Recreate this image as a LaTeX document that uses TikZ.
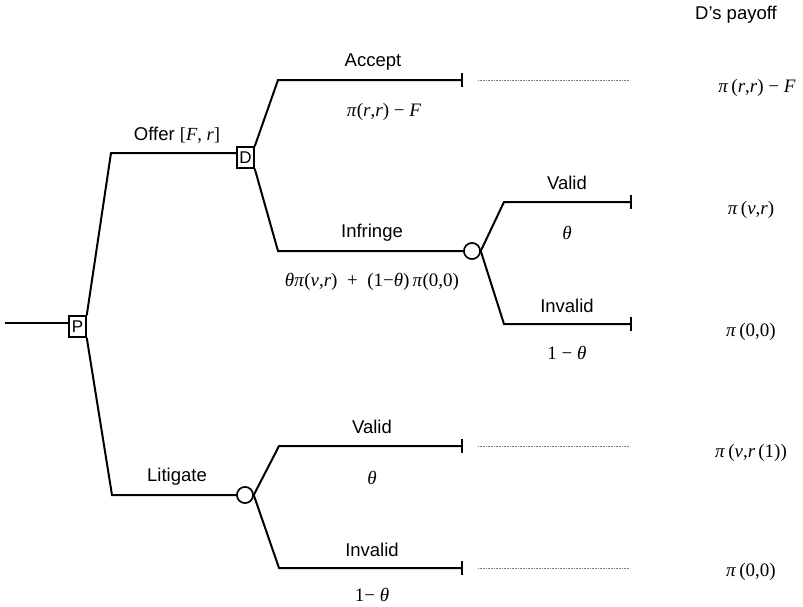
\documentclass[tikz,border=0pt]{standalone}
\usepackage{fontspec}
\setmainfont{Liberation Serif}
\setsansfont{Liberation Sans}
\newfontfamily\lblfont{Liberation Sans}
\newfontfamily\frmfont{Liberation Serif}
\usetikzlibrary{arrows.meta}
\newcommand\iv[1]{\textit{#1}}
\begin{document}
\begin{tikzpicture}[x=1pt,y=-1pt,
  lbl/.style={inner sep=0pt, font=\lblfont\fontsize{18.5}{20}\selectfont},
  frm/.style={inner sep=0pt, font=\frmfont\fontsize{19}{21}\selectfont},
  decbox/.style={draw, line width=1.5pt, minimum width=17pt, minimum height=21pt,
    inner sep=0pt, font=\lblfont\fontsize{17}{17}\selectfont},
  chance/.style={draw, circle, line width=1.5pt, minimum size=16pt, inner sep=0pt, fill=white},
  branch/.style={line width=2pt},
  ending/.style={line width=2pt, -{Bar[width=14pt]}},
  payoffline/.style={gray, line width=0.9pt, dash pattern=on 0.8pt off 0.8pt}]
\useasboundingbox (0,0) rectangle (803,606);

% decision and chance nodes
\node[decbox] (P) at (77.5,326.5) {P};
\node[decbox] (D) at (245.5,157.5) {D};
\node[chance] (I) at (472,251) {};
\node[chance] (L) at (245,495) {};

% corner points of the branches
\coordinate (root) at (5,323);
\coordinate (o1) at (111,153);
\coordinate (o2) at (112,495);
\coordinate (a0) at (278,80);   \coordinate (a1) at (463,80);
\coordinate (f0) at (278,251);
\coordinate (iv0) at (504,202); \coordinate (iv1) at (632,202);
\coordinate (ii0) at (504,324); \coordinate (ii1) at (632,324);
\coordinate (lv0) at (279,446); \coordinate (lv1) at (463,446);
\coordinate (li0) at (279,568); \coordinate (li1) at (463,568);
\coordinate (da0) at (478,80);  \coordinate (da1) at (630,80);
\coordinate (dv0) at (478,446); \coordinate (dv1) at (630,446);
\coordinate (di0) at (478,568); \coordinate (di1) at (630,568);

% tree
\draw[branch] (root) -- ([yshift=3.5pt]P.west);
\draw[branch] (P.north east) -- (o1) -- ([yshift=4.5pt]D.west);
\draw[branch] (P.south east) -- (o2) -- (L.west);
\draw[ending] (D.north east) -- (a0) -- (a1);
\draw[branch] (D.south east) -- (f0) -- (I.west);
\draw[ending] (I.east) -- (iv0) -- (iv1);
\draw[ending] (I.east) -- (ii0) -- (ii1);
\draw[ending] (L.east) -- (lv0) -- (lv1);
\draw[ending] (L.east) -- (li0) -- (li1);
\node[chance] at (I) {};
\node[chance] at (L) {};

% leaders to the payoff column
\draw[payoffline] (da0) -- (da1);
\draw[payoffline] (dv0) -- (dv1);
\draw[payoffline] (di0) -- (di1);

% branch labels
\node[lbl] (tOffer) at (177,135) {Offer {\frmfont[\iv{F}, \iv{r}]}};
\node[lbl] (tAccept) at (373,62) {Accept};
\node[frm] (tAcc) at (384,112) {\iv{π}(\iv{r},\iv{r}) − \iv{F}};
\node[frm] (tInfrV) at (372,282) {\iv{θπ}(\iv{v},\iv{r})\enspace+\enspace(1−\iv{θ})\,\iv{π}(0,0)};
\node[lbl] (tInfr) at (372,233) {Infringe};
\node[lbl] (tV1) at (567,183) {Valid};
\node[frm] (tV1p) at (567,233) {\iv{θ}};
\node[lbl] (tI1) at (567,306) {Invalid};
\node[frm] (tI1p) at (567,353) {1 − \iv{θ}};
\node[lbl] (tLit) at (177,477) {Litigate};
\node[lbl] (tV2) at (372,427) {Valid};
\node[frm] (tV2p) at (372,478) {\iv{θ}};
\node[lbl] (tI2) at (372,550) {Invalid};
\node[frm] (tI2p) at (372,595) {1− \iv{θ}};

% payoff column
\node[lbl] (head) at (736,15) {D’s payoff};
\node[frm] (p1) at (757,88) {\iv{π}\,(\iv{r},\iv{r}) − \iv{F}};
\node[frm] (p2) at (751,210) {\iv{π}\,(\iv{v},\iv{r})};
\node[frm] (p3) at (751,332) {\iv{π}\,(0,0)};
\node[frm] (p4) at (751,453) {\iv{π}\,(\iv{v},\iv{r}\,(1))};
\node[frm] (p5) at (751,572) {\iv{π}\,(0,0)};
\end{tikzpicture}
\end{document}
